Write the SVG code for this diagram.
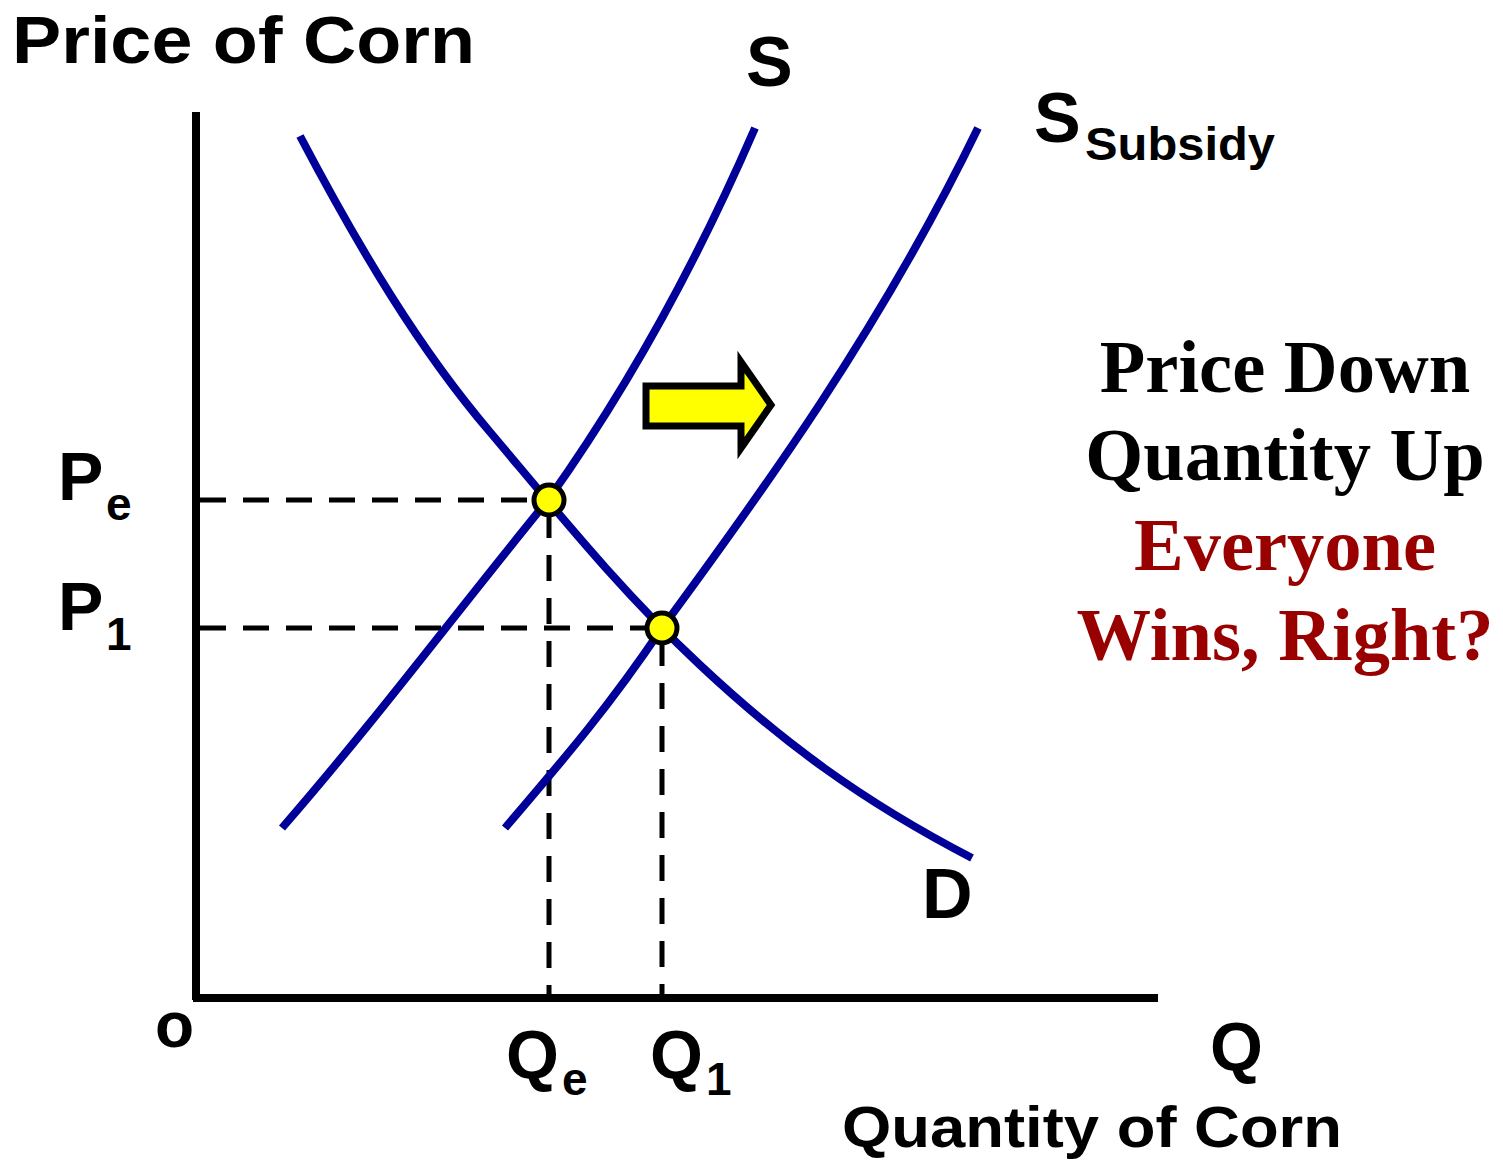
<svg xmlns="http://www.w3.org/2000/svg" width="1503" height="1160" viewBox="0 0 1503 1160">
<style>
.lab{font-family:"Liberation Sans",Arial,sans-serif;font-weight:bold;fill:#000}
.ser{font-family:"Liberation Serif","Times New Roman",serif;font-weight:bold;font-size:74.5px;text-anchor:middle}
.curve{fill:none;stroke:#000099;stroke-width:8;stroke-linejoin:round}
.dash{fill:none;stroke:#000;stroke-width:5;stroke-dasharray:26 17}
.dot{fill:#ffff00;stroke:#000;stroke-width:5}
</style>
<rect width="1503" height="1160" fill="#fff"/>
<g id="axes">
<path d="M196,112 V1000 M193,998 H1158" fill="none" stroke="#000" stroke-width="8"/>
</g>
<g id="connectors">
<path class="dash" d="M200,500 H548"/>
<path class="dash" d="M200,628 H662"/>
<path class="dash" d="M549,512 V998"/>
<path class="dash" d="M662,640 V998"/>
</g>
<g id="demand">
<path class="curve" d="M300,136 C360,250 420,350 490,432 C560,515 620,590 700,665 C780,740 860,800 972,858"/>
</g>
<g id="supply">
<path class="curve" d="M282,828 C380,715 450,620 548,500 C630,385 700,255 755,128"/>
</g>
<g id="supply-subsidy">
<path class="curve" d="M505,828 C570,752 610,705 662,628 C760,495 880,330 978,128"/>
</g>
<g id="eq-points">
<circle class="dot" cx="549" cy="500" r="15"/>
<circle class="dot" cx="662" cy="628" r="15"/>
</g>
<g id="shift-arrow">
<polygon points="646,386 741,386 741,362 771,405 741,448 741,426 646,426" fill="#ffff00" stroke="#000" stroke-width="7"/>
</g>
<g id="labels">
<text class="lab" x="12" y="63" font-size="66" textLength="463" lengthAdjust="spacingAndGlyphs">Price of Corn</text>
<text class="lab" x="746" y="86" font-size="70">S</text>
<text class="lab" x="1034" y="142" font-size="70">S</text>
<text class="lab" x="1085" y="160" font-size="46" textLength="190" lengthAdjust="spacingAndGlyphs">Subsidy</text>
<text class="lab" x="922" y="918" font-size="70">D</text>
<text class="lab" x="155" y="1047" font-size="64">o</text>
<text class="lab" x="1210" y="1070" font-size="68">Q</text>
<text class="lab" x="842" y="1147" font-size="58" textLength="500" lengthAdjust="spacingAndGlyphs">Quantity of Corn</text>
<text class="lab" x="58" y="500" font-size="68">P</text>
<text class="lab" x="106" y="520" font-size="46">e</text>
<text class="lab" x="58" y="630" font-size="68">P</text>
<text class="lab" x="106" y="650" font-size="46">1</text>
<text class="lab" x="506" y="1078" font-size="68">Q</text>
<text class="lab" x="562" y="1095" font-size="46">e</text>
<text class="lab" x="650" y="1078" font-size="68">Q</text>
<text class="lab" x="706" y="1095" font-size="46">1</text>
</g>
<g id="message">
<text class="ser" x="1285" y="392" fill="#000">Price Down</text>
<text class="ser" x="1285" y="480" fill="#000">Quantity Up</text>
<text class="ser" x="1285" y="570" fill="#990000">Everyone</text>
<text class="ser" x="1285" y="660" fill="#990000">Wins, Right?</text>
</g>
</svg>
